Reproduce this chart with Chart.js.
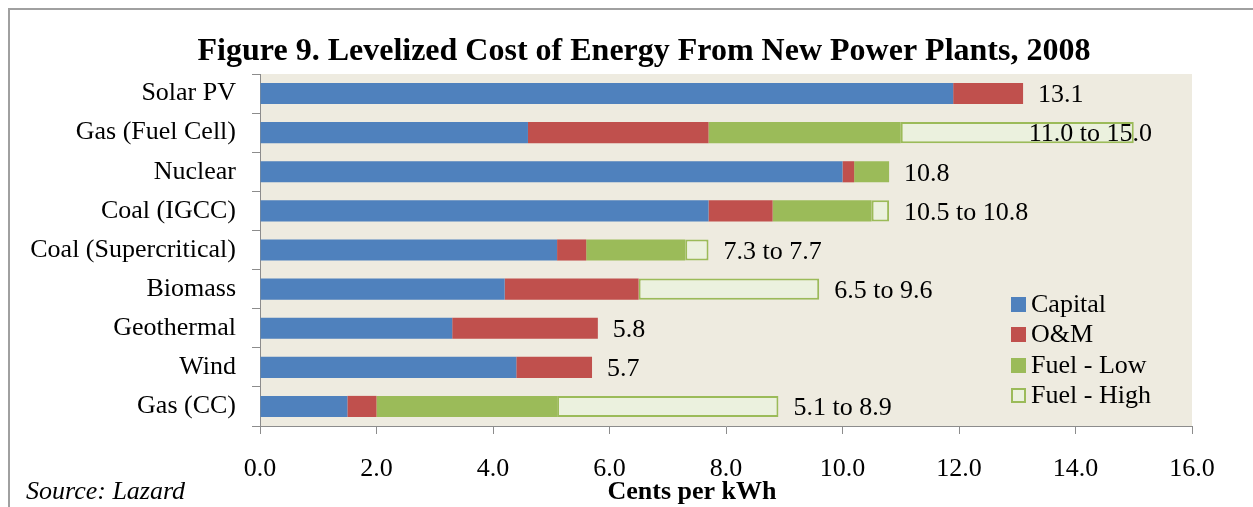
<!DOCTYPE html>
<html>
<head>
<meta charset="utf-8">
<script src="https://cdn.jsdelivr.net/npm/chart.js@4/dist/chart.umd.min.js"></script>
<style>
  html, body { margin: 0; padding: 0; background: #ffffff; }
  #wrap { position: relative; width: 1253px; height: 507px; overflow: hidden; }
  #frame { position: absolute; left: 8px; top: 8px; width: 1260px; height: 520px;
           border-top: 2px solid #a0a0a0; border-left: 2px solid #a0a0a0; box-sizing: border-box; }
  canvas { position: absolute; left: 0; top: 0; }
</style>
</head>
<body>
<div id="wrap">
  <div id="frame"></div>
  <canvas id="c" width="1253" height="507"></canvas>
</div>
<script>
const categories = ["Solar PV", "Gas (Fuel Cell)", "Nuclear", "Coal (IGCC)", "Coal (Supercritical)", "Biomass", "Geothermal", "Wind", "Gas (CC)"];
const capital  = [11.9, 4.6, 10.0, 7.7, 5.1, 4.2, 3.3, 4.4, 1.5];
const oandm    = [1.2, 3.1, 0.2, 1.1, 0.5, 2.3, 2.5, 1.3, 0.5];
const fuelLow  = [0, 3.3, 0.6, 1.7, 1.7, 0, 0, 0, 3.1];
const fuelHigh = [0, 4.0, 0, 0.3, 0.4, 3.1, 0, 0, 3.8];
const valueLabels = ["13.1", "11.0 to 15.0", "10.8", "10.5 to 10.8", "7.3 to 7.7", "6.5 to 9.6", "5.8", "5.7", "5.1 to 8.9"];
const xTicks = [0, 2, 4, 6, 8, 10, 12, 14, 16];
const seriesNames = ["Capital", "O&M", "Fuel - Low", "Fuel - High"];

const SERIF = '"Liberation Serif", "Times New Roman", serif';
const colors = ["#4F81BD", "#C0504D", "#9BBB59", "#EBF1DE"];

const decor = {
  id: 'decor',
  beforeDraw(chart) {
    const {ctx, chartArea: a} = chart;
    ctx.save();
    ctx.fillStyle = '#EEEBE0';
    ctx.fillRect(a.left, a.top, a.right - a.left, a.bottom - a.top);
    ctx.restore();
  },
  afterDatasetsDraw(chart) {
    const {ctx, chartArea: a, scales} = chart;
    const x = scales.x, y = scales.y;
    ctx.save();
    ctx.fillStyle = '#000';
    ctx.font = '26px ' + SERIF;
    ctx.textBaseline = 'middle';
    ctx.textAlign = 'left';
    categories.forEach((c, i) => {
      const total = capital[i] + oandm[i] + fuelLow[i] + fuelHigh[i];
      let px = x.getPixelForValue(total) + 15;
      const w = ctx.measureText(valueLabels[i]).width;
      if (px + w > a.right - 40) px = a.right - 40 - w;
      ctx.fillText(valueLabels[i], px, y.getPixelForValue(i) + 2);
    });
    // legend
    const lx = 1011, ly = [304, 334, 365, 395];
    seriesNames.forEach((n, i) => {
      if (i === 3) {
        ctx.fillStyle = colors[3];
        ctx.fillRect(lx, ly[i] - 7, 15, 15);
        ctx.strokeStyle = '#9BBB59';
        ctx.lineWidth = 2;
        ctx.strokeRect(lx + 1, ly[i] - 6, 13, 13);
      } else {
        ctx.fillStyle = colors[i];
        ctx.fillRect(lx, ly[i] - 7, 15, 15);
      }
      ctx.fillStyle = '#000';
      ctx.fillText(n, lx + 20, ly[i] + 1);
    });
    // titles
    ctx.textAlign = 'center';
    ctx.font = 'bold 32px ' + SERIF;
    ctx.fillText('Figure 9. Levelized Cost of Energy From New Power Plants, 2008', 644, 52);
    ctx.font = 'bold 26px ' + SERIF;
    ctx.fillText('Cents per kWh', 692, 492);
    ctx.textAlign = 'left';
    ctx.font = 'italic 26px ' + SERIF;
    ctx.fillText('Source: Lazard', 26, 492);
    ctx.restore();
  }
};

const ds = (label, data, i) => ({
  label, data,
  backgroundColor: colors[i],
  borderColor: i === 3 ? '#9BBB59' : colors[i],
  borderWidth: i === 3 ? 2 : 0,
  borderSkipped: false,
  barPercentage: 0.9,
  categoryPercentage: 0.6
});

new Chart(document.getElementById('c'), {
  type: 'bar',
  data: {
    labels: categories,
    datasets: [
      ds(seriesNames[0], capital, 0),
      ds(seriesNames[1], oandm, 1),
      ds(seriesNames[2], fuelLow, 2),
      ds(seriesNames[3], fuelHigh, 3)
    ]
  },
  options: {
    indexAxis: 'y',
    responsive: false,
    animation: false,
    devicePixelRatio: 1,
    layout: { padding: { left: 0, right: 61, top: 74, bottom: 0 } },
    plugins: { legend: { display: false }, tooltip: { enabled: false } },
    scales: {
      x: {
        stacked: true, min: 0, max: 16,
        afterBuildTicks: s => { s.ticks = xTicks.map(v => ({ value: v })); },
        afterFit: s => { s.height = 81; },
        grid: { drawOnChartArea: false, drawTicks: true, tickLength: 8, color: '#8c8c8c' },
        border: { display: true, color: '#8c8c8c', width: 1 },
        ticks: { color: '#000', font: { family: SERIF, size: 26 }, padding: 20,
                 maxRotation: 0, callback: v => Number(v).toFixed(1) }
      },
      y: {
        stacked: true,
        afterFit: s => { s.width = 260; },
        grid: { drawOnChartArea: false, drawTicks: true, tickLength: 8, color: '#8c8c8c', offset: true },
        border: { display: true, color: '#8c8c8c', width: 1 },
        ticks: { color: '#000', font: { family: SERIF, size: 26 }, padding: 16 }
      }
    }
  },
  plugins: [decor]
});
</script>
</body>
</html>
